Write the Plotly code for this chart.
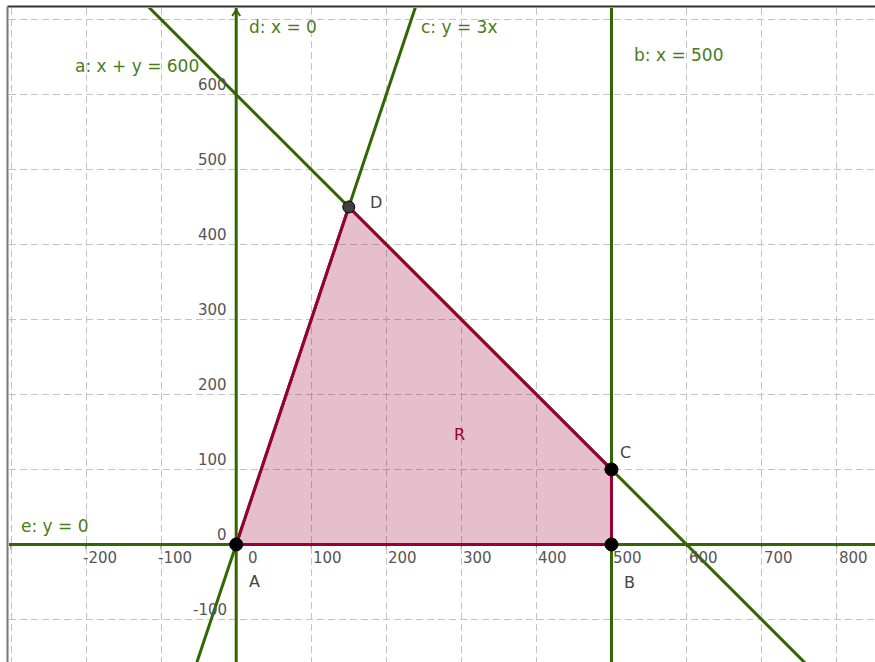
import plotly.graph_objects as go

# ---------------- data ----------------
line_names = ["a", "b", "c", "d", "e"]
line_texts = ["a: x + y = 600", "b: x = 500", "c: y = 3x", "d: x = 0", "e: y = 0"]
# each line: p*x + q*y = r
line_p = [1, 1, -3, 1, 0]
line_q = [1, 0, 1, 0, 1]
line_r = [600, 500, 0, 0, 0]

point_names = ["A", "B", "C", "D"]
point_x = [0, 500, 500, 150]
point_y = [0, 0, 100, 450]

region_name = "R"

x_tick_vals = [-300, -200, -100, 0, 100, 200, 300, 400, 500, 600, 700, 800]
x_tick_labels = ["", "-200", "-100", "0", "100", "200", "300", "400", "500", "600", "700", "800"]
y_tick_vals = [-100, 0, 100, 200, 300, 400, 500, 600, 700]
y_tick_labels = ["-100", "0", "100", "200", "300", "400", "500", "600", ""]

# ---------------- layout / style ----------------
X_RANGE = [-302.7, 851.1]
Y_RANGE = [-156.7, 715.3]
GREEN = "#336600"
LABEL_GREEN = "#4a7c1c"
CRIMSON = "#990033"
FONT = "DejaVu Sans"

line_label_pos = {"a": (-218, 638), "b": (527, 652), "c": (243, 690), "d": (15, 690), "e": (-289, 24)}
point_label_pos = {"A": (14.8, -49), "B": (513.6, -51), "C": (509, 122), "D": (176, 456)}
region_label_pos = (288, 146)

fig = go.Figure()

# lines
for name, p, q, r in zip(line_names, line_p, line_q, line_r):
    if q == 0:
        xs = [r / p, r / p]
        ys = [Y_RANGE[0] - 100, Y_RANGE[1] + 100]
    else:
        xs = [X_RANGE[0] - 300, X_RANGE[1] + 300]
        ys = [(r - p * x) / q for x in xs]
    fig.add_trace(go.Scatter(x=xs, y=ys, mode="lines",
                             line=dict(color=GREEN, width=3),
                             hoverinfo="skip", showlegend=False))

# polygon R
fig.add_trace(go.Scatter(x=point_x + [point_x[0]], y=point_y + [point_y[0]],
                         mode="lines", fill="toself",
                         fillcolor="rgba(153,0,51,0.25)",
                         line=dict(color=CRIMSON, width=3),
                         hoverinfo="skip", showlegend=False))

# points
pt_colors = ["#000000", "#000000", "#000000", "#404040"]
pt_sizes = [13, 13, 13, 12]
fig.add_trace(go.Scatter(x=point_x, y=point_y, mode="markers",
                         marker=dict(color=pt_colors, size=pt_sizes, opacity=1,
                                     line=dict(color="#000000", width=1)),
                         hoverinfo="skip", showlegend=False))

annotations = []
# tick labels
for v, t in zip(x_tick_vals, x_tick_labels):
    if not t:
        continue
    shift = 10 if v == 0 else (-5 if v < 0 else 0)
    annotations.append(dict(x=v, y=0, xref="x", yref="y", text=t, showarrow=False,
                            xanchor="left", yanchor="middle", xshift=shift, yshift=-14,
                            font=dict(family=FONT, size=15, color="#555555")))
for v, t in zip(y_tick_vals, y_tick_labels):
    if not t:
        continue
    annotations.append(dict(x=0, y=v, xref="x", yref="y", text=t, showarrow=False,
                            xanchor="right", yanchor="middle", xshift=-7, yshift=9,
                            font=dict(family=FONT, size=15, color="#555555")))
# line labels
for name, txt in zip(line_names, line_texts):
    lx, ly = line_label_pos[name]
    annotations.append(dict(x=lx, y=ly, xref="x", yref="y", text=txt, showarrow=False,
                            xanchor="left", yanchor="middle",
                            font=dict(family=FONT, size=17, color=LABEL_GREEN)))
# point labels
for name in point_names:
    lx, ly = point_label_pos[name]
    annotations.append(dict(x=lx, y=ly, xref="x", yref="y", text=name, showarrow=False,
                            xanchor="left", yanchor="middle",
                            font=dict(family=FONT, size=16, color="#444444")))
annotations.append(dict(x=region_label_pos[0], y=region_label_pos[1], xref="x", yref="y",
                        text=region_name, showarrow=False, xanchor="left", yanchor="middle",
                        font=dict(family=FONT, size=16, color=CRIMSON)))

shapes = []
# axis tick marks
for v in x_tick_vals:
    shapes.append(dict(type="line", xref="x", yref="y", x0=v, x1=v,
                       ysizemode="pixel", yanchor=0, y0=0, y1=-5,
                       line=dict(color="#555555", width=1), layer="below"))
for v in y_tick_vals:
    shapes.append(dict(type="line", xref="x", yref="y", y0=v, y1=v,
                       xsizemode="pixel", xanchor=0, x0=0, x1=-5,
                       line=dict(color="#555555", width=1), layer="below"))
# y-axis arrow
shapes.append(dict(type="path", xref="x", yref="y", xsizemode="pixel", ysizemode="pixel",
                   xanchor=0, yanchor=Y_RANGE[1], path="M -4,-8 L 0,-2 L 4,-8",
                   line=dict(color=GREEN, width=2)))
# window frame
shapes.append(dict(type="line", xref="paper", yref="paper", x0=-0.0017, x1=1.0,
                   y0=1.0023, y1=1.0023, line=dict(color="#333333", width=2)))
shapes.append(dict(type="line", xref="paper", yref="paper", x0=-0.0017, x1=-0.0017,
                   y0=-0.01, y1=1.0023, line=dict(color="#777777", width=2)))

axis_common = dict(showgrid=True, gridcolor="#c4c4c4", gridwidth=1, griddash="7px,4px",
                   dtick=100, tick0=0, zeroline=False, showline=False,
                   showticklabels=False, ticks="", fixedrange=True)

fig.update_layout(
    width=875, height=662,
    margin=dict(l=9, r=0, t=8, b=0),
    paper_bgcolor="white", plot_bgcolor="white",
    xaxis=dict(range=X_RANGE, **axis_common),
    yaxis=dict(range=Y_RANGE, **axis_common),
    annotations=annotations, shapes=shapes,
    showlegend=False,
)

fig.write_html("out.html", config={"displayModeBar": False},
               post_script="document.body.style.margin='0';document.body.style.overflow='hidden';")
